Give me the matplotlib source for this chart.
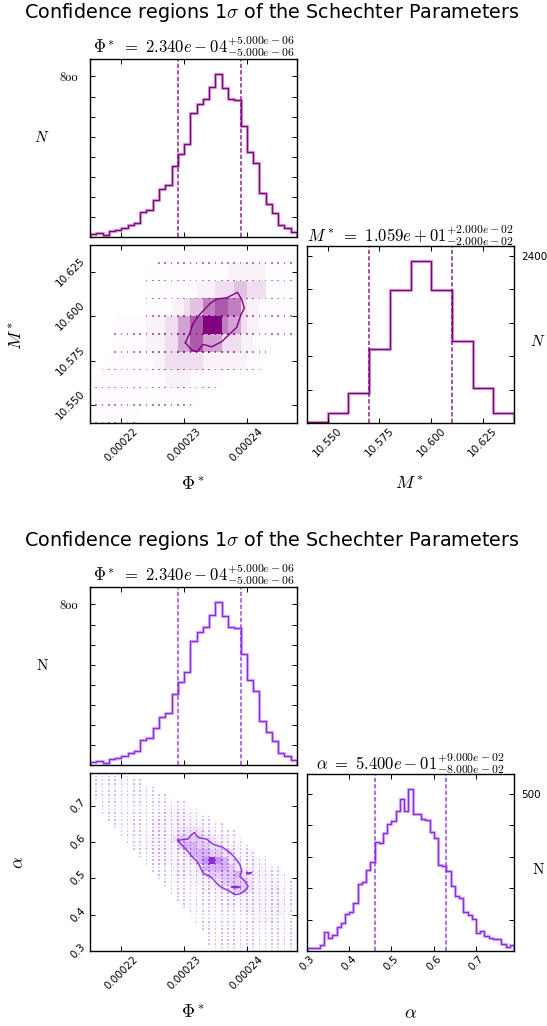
import os
import numpy as np
import matplotlib
matplotlib.use("Agg")
import matplotlib.pyplot as plt
from matplotlib.colors import LinearSegmentedColormap, to_rgba
from matplotlib.font_manager import FontProperties

plt.rcParams["mathtext.fontset"] = "cm"

W, H = 547, 1026

# ---- 1D marginals -------------------------------------------------------
phi_lo, phi_step = 2.15e-4, 1e-6
phi_counts = [13, 18, 10, 32, 37, 43, 60, 72, 125, 135, 185, 238, 260, 352,
              412, 462, 617, 663, 688, 748, 810, 742, 688, 683, 552, 425,
              370, 220, 165, 118, 58, 47, 23]

mstar_lo, mstar_step = 10.54, 0.01
mstar_counts = [14, 144, 437, 1061, 1910, 2323, 1910, 1176, 509, 139]

alpha_lo, alpha_step = 0.30, 0.01
alpha_counts = [11, 11, 11, 20, 59, 41, 52, 75, 88, 118,
                124, 152, 212, 220, 257, 282, 346, 344, 374, 403,
                414, 444, 484, 445, 514, 435, 435, 420, 415, 378,
                359, 272, 270, 253, 206, 174, 169, 123, 115, 101,
                57, 65, 47, 40, 39, 38, 23, 14, 20]

# best values and (+, -) 1 sigma errors
phi_best, phi_err = 2.340e-4, (5e-6, 5e-6)
mstar_best, mstar_err = 10.59, (0.02, 0.02)
alpha_best, alpha_err = 0.54, (0.09, 0.08)

phi_ticks = [0.00022, 0.00023, 0.00024]
mstar_ticks = [10.55, 10.575, 10.60, 10.625]
alpha_ticks = [0.3, 0.4, 0.5, 0.6, 0.7]

# ---- 2D densities (shade level 0-9 per cell, top row first) -------------
# Phi* x M*: Phi bins of 1e-6, M* bins of 0.01 (10.54 .. 10.64)
phi_mstar_levels = [
    "000000000001111111111111111111111",
    "000000000111111111111122222211111",
    "000000000111111112223334433311111",
    "000000000111122344667766322111111",
    "000011111222335577999655322111111",
    "000011111222335577555333221110000",
    "001111111122333333222222211100000",
    "111111111111222211111000000000000",
    "111111111111111110000000000000000",
    "111111110000000000000000000000000",
]
mstar_cell = 0.01

# Phi* x alpha: Phi bins of 1e-6, alpha bins of 0.02 (0.30 .. 0.80)
phi_alpha_levels = [
    "011111100000000000000000000000000",
    "011111111000000000000000000000000",
    "011111111110000000000000000000000",
    "011111111111100000000000000000000",
    "001111111111111100000000000000000",
    "001111111111222211000000000000000",
    "000111111112222221110000000000000",
    "000011111122222222111100000000000",
    "000001111122223333221111000000000",
    "000000111222234444332211100000000",
    "000000011222224554433222110000000",
    "000000001122222355544332221000000",
    "000000000112222235696533222110000",
    "000000000011122223555543222211100",
    "000000000001112222344445322221110",
    "000000000000111122223444432222111",
    "000000000000011111222234432222211",
    "000000000000001111112222222222111",
    "000000000000000111111122222222211",
    "000000000000000011111111222222211",
    "000000000000000001111111112222111",
    "000000000000000000111111111111111",
    "000000000000000000011111111111111",
    "000000000000000000011111111111111",
    "000000000000000000001111111111111",
]
alpha_cell = 0.02

# 1 sigma contours
cont1_phi = [2.302e-4, 2.312e-4, 2.321e-4, 2.330e-4, 2.344e-4, 2.360e-4,
             2.384e-4, 2.390e-4, 2.396e-4, 2.392e-4, 2.385e-4, 2.378e-4,
             2.368e-4, 2.352e-4, 2.341e-4, 2.332e-4, 2.322e-4, 2.314e-4,
             2.309e-4]
cont1_mstar = [10.5851, 10.5810, 10.5800, 10.5842, 10.5828, 10.5857,
               10.5938, 10.6002, 10.6046, 10.6093, 10.6134, 10.6121,
               10.6103, 10.6097, 10.6070, 10.6036, 10.5998, 10.5957,
               10.5904]

cont2_phi = [2.290e-4, 2.306e-4, 2.313e-4, 2.317e-4, 2.320e-4, 2.325e-4,
             2.336e-4, 2.346e-4, 2.362e-4, 2.373e-4, 2.381e-4, 2.389e-4,
             2.392e-4, 2.389e-4, 2.397e-4, 2.402e-4, 2.397e-4, 2.389e-4,
             2.381e-4, 2.373e-4, 2.357e-4, 2.349e-4, 2.344e-4, 2.330e-4,
             2.325e-4, 2.320e-4, 2.312e-4, 2.306e-4, 2.298e-4]
cont2_alpha = [0.605, 0.608, 0.622, 0.626, 0.617, 0.611, 0.608, 0.594,
               0.585, 0.571, 0.557, 0.538, 0.520, 0.506, 0.492, 0.478,
               0.466, 0.457, 0.455, 0.464, 0.478, 0.492, 0.502, 0.515,
               0.534, 0.548, 0.561, 0.575, 0.589]
# small islands of the alpha contour
isle_phi = [[2.400e-4, 2.408e-4, 2.404e-4, 2.400e-4],
            [2.376e-4, 2.383e-4, 2.390e-4, 2.383e-4, 2.376e-4]]
isle_alpha = [[0.5145, 0.5160, 0.5115, 0.5145],
              [0.4760, 0.4780, 0.4760, 0.4740, 0.4760]]

# ---- styling -----------------------------------------------------------
shade = np.array([0, 0.012, 0.05, 0.13, 0.24, 0.36, 0.50, 0.65, 0.82, 1.0])
tick_font = 7.5
cmmi = FontProperties(fname=os.path.join(matplotlib.get_data_path(),
                                         "fonts", "ttf", "cmmi10.ttf"), size=9)

fig = plt.figure(figsize=(W / 100, H / 100), dpi=100)


def px_axes(x0, y0, x1, y1):
    return fig.add_axes([x0 / W, 1 - y1 / H, (x1 - x0) / W, (y1 - y0) / H])


def ftext(x, y, s, **kw):
    fig.text(x / W, 1 - y / H, s, ha="center", va="center", **kw)


def style(ax):
    ax.tick_params(direction="in", top=True, right=True, length=3.5,
                   width=0.7, labelsize=tick_font, pad=2)
    for sp in ax.spines.values():
        sp.set_linewidth(1.0)


def err_title(name, best, err):
    return (r"$%s\ =\ %s^{+%s}_{-%s}$"
            % (name, f"{best:.3e}", f"{err[0]:.3e}", f"{err[1]:.3e}"))


def draw_hist(ax, counts, lo, step, color, best, err, yticks, name):
    edges = lo + step * np.arange(len(counts) + 1)
    ax.stairs(counts, edges, color=color, lw=2.4, alpha=0.3)
    ax.stairs(counts, edges, color=color, lw=1.0)
    for v in (best - err[1], best + err[0]):
        ax.axvline(v, color=color, lw=1.2, alpha=0.8, ls=(0, (2.6, 1.3)))
    ax.set_xlim(edges[0], edges[-1])
    ax.set_ylim(0, max(counts) * 1.095)
    style(ax)
    ax.set_yticks(yticks)
    ax.set_yticklabels([""] * (len(yticks) - 1) + ["%d" % yticks[-1]])
    for lab in ax.get_yticklabels():
        lab.set_fontproperties(cmmi)
    ax.set_title(err_title(name, best, err), fontsize=12, pad=3)


def draw_density(ax, levels, x_lo, x_step, y_lo, y_step, sub, color,
                 dot_alpha):
    lev = np.array([[int(c) for c in r] for r in levels[::-1]])
    ny, nx = lev.shape
    xe = x_lo + x_step * np.arange(nx + 1)
    ye = y_lo + y_step * np.arange(ny + 1)
    cmap = LinearSegmentedColormap.from_list("w", ["white", color])
    ax.pcolormesh(xe, ye, shade[lev], cmap=cmap, vmin=0, vmax=1,
                  shading="flat", antialiased=False)
    # sample points on the parameter grid
    jj, kk = np.nonzero(lev)
    xs, ys, cs = [], [], []
    for j, k in zip(jj, kk):
        for i in range(sub):
            xs.append(xe[k])
            ys.append(ye[j] + i * y_step / sub)
            cs.append(to_rgba(color, min(1.0, dot_alpha + 0.08 * lev[j, k])))
    ax.scatter(xs, ys, s=1.3, marker="s", c=cs, linewidths=0, zorder=3)


def block(dy, color, y_name, y_label, y_lo, y_step, y_counts, y_best, y_err,
          y_ticks, y_fmt, y_hist_ticks, levels, cell, sub, dot_alpha, cont,
          islands, n_label):
    # Phi* marginal
    ax1 = px_axes(90, 59 + dy, 297, 237 + dy)
    draw_hist(ax1, phi_counts, phi_lo, phi_step, color, phi_best, phi_err,
              [100, 200, 300, 400, 500, 600, 700, 800], r"\Phi^*")
    ax1.set_xticks(phi_ticks)
    ax1.set_xticklabels([])
    ax1.tick_params(axis="y", pad=8.5)

    # joint density
    ax2 = px_axes(90, 245 + dy, 297, 423 + dy)
    draw_density(ax2, levels, phi_lo, phi_step, y_lo, cell, sub, color,
                 dot_alpha)
    ax2.plot(cont[0] + cont[0][:1], cont[1] + cont[1][:1], color=color,
             lw=1.0, zorder=4)
    for px, py in islands:
        ax2.plot(px, py, color=color, lw=1.0, zorder=4)
    ax2.set_xlim(phi_lo, phi_lo + phi_step * len(phi_counts))
    ax2.set_ylim(y_lo, y_lo + y_step * len(y_counts))
    style(ax2)
    ax2.set_xticks(phi_ticks)
    ax2.set_xticklabels(["%.5f" % t for t in phi_ticks], rotation=45)
    ax2.set_yticks(y_ticks)
    ax2.set_yticklabels([y_fmt % t for t in y_ticks], rotation=45,
                        va="center")

    # second parameter marginal
    ax3 = px_axes(307, 246 + dy, 514, 423 + dy)
    draw_hist(ax3, y_counts, y_lo, y_step, color, y_best, y_err,
              y_hist_ticks, y_name)
    ax3.tick_params(axis="y", labelleft=False, labelright=True, pad=5.5)
    ax3.set_xticks(y_ticks)
    ax3.set_xticklabels([y_fmt % t for t in y_ticks], rotation=45)

    ftext(272, 12 + dy,
          r"Confidence regions 1$\sigma$ of the Schechter Parameters",
          fontsize=13.75)
    ftext(193, 484 + dy, r"$\Phi^*$", fontsize=13)
    ftext(410, 485 + dy, y_label, fontsize=13)
    ftext(18, 335 + dy, y_label, fontsize=13, rotation=90)
    ftext(42, 138 + dy, n_label, fontsize=11)
    ftext(538, 341 + dy, n_label, fontsize=11)


block(0, "purple", "M^*", r"$M^*$", mstar_lo, mstar_step, mstar_counts,
      mstar_best, mstar_err, mstar_ticks, "%.3f",
      [480, 960, 1440, 1920, 2400], phi_mstar_levels, mstar_cell, 1, 0.45,
      (cont1_phi, cont1_mstar), [], r"$N$")

block(528, "blueviolet", r"\alpha", r"$\alpha$", alpha_lo, alpha_step,
      alpha_counts, alpha_best, alpha_err, alpha_ticks, "%.1f",
      [100, 200, 300, 400, 500], phi_alpha_levels, alpha_cell, 2, 0.25,
      (cont2_phi, cont2_alpha), list(zip(isle_phi, isle_alpha)),
      r"$\mathrm{N}$")

fig.savefig("out.png", dpi=100)
